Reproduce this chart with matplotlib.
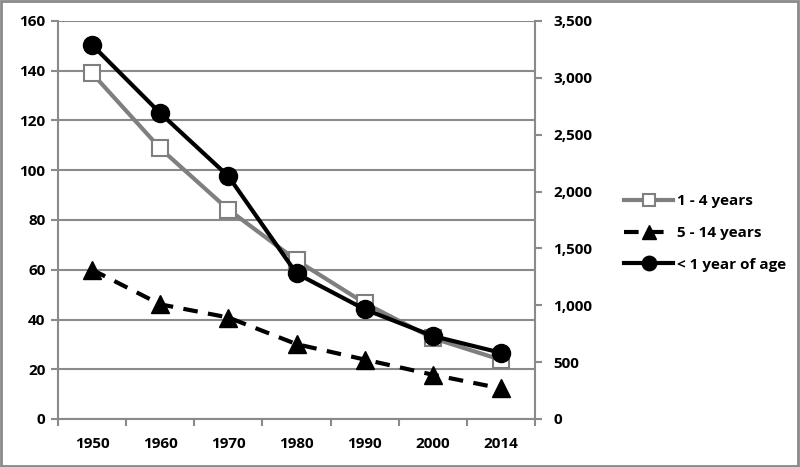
import matplotlib
matplotlib.use("Agg")
import matplotlib.pyplot as plt
from matplotlib.patches import Rectangle
from matplotlib.ticker import FuncFormatter, FixedLocator
import numpy as np

years = ["1950", "1960", "1970", "1980", "1990", "2000", "2014"]
age_1_4 = [139, 108.8, 84.2, 63.8, 46.6, 32.5, 23.8]
age_5_14 = [60, 46.1, 40.8, 30.1, 23.9, 17.8, 12.3]
under_1 = [3290, 2690, 2135, 1280, 965, 730, 582]
left_ticks = [0, 20, 40, 60, 80, 100, 120, 140, 160]
right_ticks = [0, 500, 1000, 1500, 2000, 2500, 3000, 3500]

plt.rcParams['font.family'] = ['Open Sans', 'DejaVu Sans']
plt.rcParams['font.weight'] = 'bold'

fig = plt.figure(figsize=(8, 4.67), dpi=100)
ax = fig.add_axes([58/800, 1 - 419/467, (535-58)/800, (419-21)/467])
ax2 = ax.twinx()

grid_c = '#8a8a8a'
x = np.arange(len(years))
fs = 11

ax.plot(x, age_1_4, color='#7f7f7f', lw=3, marker='s', ms=11, mfc='white',
        mec='#7f7f7f', mew=1.5, label='1 - 4 years', zorder=3)
ax.plot(x, age_5_14, color='black', lw=3, ls=(0, (3.5, 2.5)), marker='^', ms=13,
        mfc='black', mec='black', label='5 - 14 years', zorder=3)
ax2.plot(x, under_1, color='black', lw=3, marker='o', ms=13, label='< 1 year of age', zorder=3)

ax.set_xlim(-0.5, len(years) - 0.5)
ax.set_ylim(0, 160)
ax2.set_ylim(0, 3500)
ax.set_yticks(left_ticks)
ax2.set_yticks(right_ticks)
ax2.yaxis.set_major_formatter(FuncFormatter(lambda v, p: f"{int(v):,}"))
ax.set_xticks(x)
ax.set_xticklabels(years)
ax.xaxis.set_minor_locator(FixedLocator(np.arange(-0.5, len(years), 1)))
ax.tick_params(axis='x', which='major', length=0, pad=13, labelsize=fs)
ax.tick_params(axis='x', which='minor', length=5, color=grid_c, width=1.5)
ax.tick_params(axis='y', length=5, color=grid_c, width=1.5, labelsize=fs, pad=4)
ax2.tick_params(axis='y', length=5, color=grid_c, width=1.5, labelsize=fs, pad=8)

ax.yaxis.grid(True, color=grid_c, lw=1.5)
ax.set_axisbelow(True)
for s in ['top']:
    ax.spines[s].set_visible(False)
    ax2.spines[s].set_visible(False)
ax.spines['right'].set_visible(False)
for a in (ax, ax2):
    for s in ['left', 'bottom', 'right']:
        a.spines[s].set_color(grid_c)
        a.spines[s].set_linewidth(1.5)
ax2.spines['left'].set_visible(False)
ax2.spines['bottom'].set_visible(False)

h1, l1 = ax.get_legend_handles_labels()
h2, l2 = ax2.get_legend_handles_labels()
leg = fig.legend(h1 + h2, l1 + l2, loc='center left', bbox_to_anchor=(618/800, 1 - 233/467),
                 frameon=False, fontsize=fs, handlelength=3.2, labelspacing=1.15,
                 handletextpad=0.25, borderaxespad=0, markerscale=0.8)

fig.patches.append(Rectangle((0.001, 0.002), 0.997, 0.995, transform=fig.transFigure,
                             fill=False, edgecolor='#8a8a8a', lw=2))

fig.savefig('out.png', dpi=100)
